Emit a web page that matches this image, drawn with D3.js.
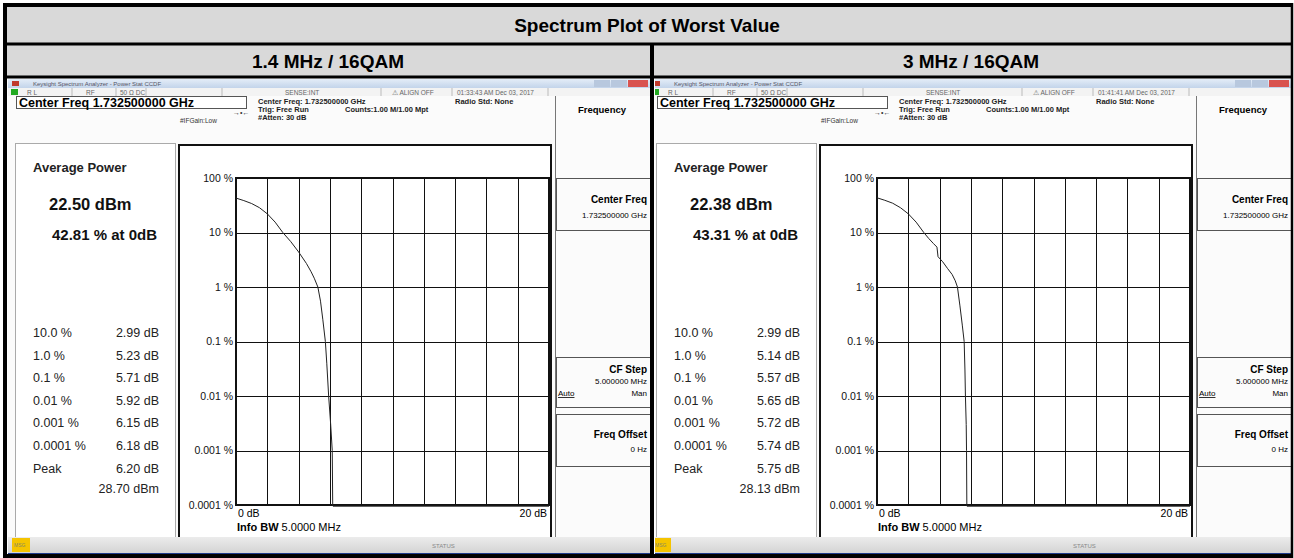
<!DOCTYPE html>
<html lang="en">
<head>
<meta charset="utf-8">
<title>Spectrum Plot of Worst Value</title>
<script src="https://cdn.jsdelivr.net/npm/d3@7"></script>
<style>
  html, body { margin: 0; padding: 0; background: #fff; overflow: hidden; }
  svg text { font-family: Arial, "Liberation Sans", sans-serif; }
  .grid line { stroke: #111; stroke-width: 1; shape-rendering: crispEdges; }
  .grid path { display: none; }
  .ytick text { font-size: 10.5px; fill: #111; }
</style>
</head>
<body>
<div id="chart"></div>
<script>
// ---------------- data ----------------
var pageTitle = "Spectrum Plot of Worst Value";
var panelTitles = ["1.4 MHz / 16QAM", "3 MHz / 16QAM"];
var timeStamps = ["01:33:43 AM Dec 03, 2017", "01:41:41 AM Dec 03, 2017"];
var avgPower = ["22.50 dBm", "22.38 dBm"];
var pctAtZero = ["42.81 % at 0dB", "43.31 % at 0dB"];
var probLabels = ["10.0 %", "1.0 %", "0.1 %", "0.01 %", "0.001 %", "0.0001 %", "Peak"];
var statsA = ["2.99 dB", "5.23 dB", "5.71 dB", "5.92 dB", "6.15 dB", "6.18 dB", "6.20 dB"];
var statsB = ["2.99 dB", "5.14 dB", "5.57 dB", "5.65 dB", "5.72 dB", "5.74 dB", "5.75 dB"];
var peakDbm = ["28.70 dBm", "28.13 dBm"];

var yTicks = [100, 10, 1, 0.1, 0.01, 0.001, 0.0001];
var yTickLabels = ["100 %", "10 %", "1 %", "0.1 %", "0.01 %", "0.001 %", "0.0001 %"];
var xTicks = [0, 2, 4, 6, 8, 10, 12, 14, 16, 18, 20];

// CCDF traces (dB above average, % probability)
var curveA_db  = [0, 0.5, 1, 1.5, 2, 2.5, 2.99, 3.5, 4, 4.5, 4.8, 5.0, 5.23, 5.4, 5.55, 5.71, 5.8, 5.92, 6.05, 6.15, 6.18, 6.2, 20];
var curveA_pct = [42.81, 38.5, 34, 28.5, 22, 15.5, 10, 6.8, 4.4, 2.7, 1.9, 1.45, 1.0, 0.55, 0.25, 0.1, 0.04, 0.01, 0.003, 0.001, 0.0001, 0.000095, 0.000095];
var curveB_db  = [0, 0.5, 1, 1.5, 2, 2.5, 2.99, 3.3, 3.6, 3.83, 3.9, 4.2, 4.5, 4.8, 5.0, 5.14, 5.3, 5.45, 5.57, 5.62, 5.65, 5.7, 5.72, 5.74, 5.75, 20];
var curveB_pct = [43.31, 39, 34.5, 28.5, 22, 15.5, 10, 7.8, 6.3, 5.4, 3.6, 2.9, 2.2, 1.7, 1.3, 1.0, 0.45, 0.2, 0.1, 0.03, 0.01, 0.003, 0.001, 0.0001, 0.000095, 0.000095];

var W = 1294, H = 558;

var svg = d3.select("#chart").append("svg")
  .attr("width", W).attr("height", H);

var defs = svg.append("defs");
var tb = defs.append("linearGradient").attr("id", "titlebar").attr("x1", 0).attr("y1", 0).attr("x2", 0).attr("y2", 1);
tb.append("stop").attr("offset", "0%").attr("stop-color", "#e4edf8");
tb.append("stop").attr("offset", "100%").attr("stop-color", "#c3d4ea");
var sb = defs.append("linearGradient").attr("id", "statusbar").attr("x1", 0).attr("y1", 0).attr("x2", 0).attr("y2", 1);
sb.append("stop").attr("offset", "0%").attr("stop-color", "#ececec");
sb.append("stop").attr("offset", "100%").attr("stop-color", "#d4d4d4");

defs.append("clipPath").attr("id", "clipL").append("rect")
  .attr("x", 8).attr("y", 78).attr("width", 642).attr("height", 478);
defs.append("clipPath").attr("id", "clipR").append("rect")
  .attr("x", 655).attr("y", 78).attr("width", 636).attr("height", 478);

// ---------------- table header ----------------
svg.append("rect").attr("x", 3).attr("y", 3).attr("width", 1289).attr("height", 73).attr("fill", "#d9d9d9");

svg.append("text").attr("x", W / 2).attr("y", 32)
  .attr("text-anchor", "middle").attr("font-size", 19).attr("font-weight", "bold")
  .text(pageTitle);

svg.selectAll("text.panel").data(panelTitles).enter().append("text")
  .attr("class", "panel")
  .attr("x", function(d, i) { return i == 0 ? 328 : 971; })
  .attr("y", 68)
  .attr("text-anchor", "middle").attr("font-size", 19).attr("font-weight", "bold")
  .text(function(d) { return d; });

// ---------------- one analyzer screen ----------------
function drawScreen(i, dx) {
  var g = svg.append("g").attr("clip-path", i == 0 ? "url(#clipL)" : "url(#clipR)")
    .append("g").attr("transform", "translate(" + dx + ",0)");

  g.append("rect").attr("x", 8).attr("y", 78).attr("width", 642).attr("height", 478).attr("fill", "#fbfbfb");

  // window title bar
  g.append("rect").attr("x", 8).attr("y", 79).attr("width", 642).attr("height", 9).attr("fill", "url(#titlebar)");
  g.append("rect").attr("x", 12).attr("y", 81).attr("width", 7).attr("height", 5).attr("fill", "#c0392b");
  g.append("text").attr("x", 33).attr("y", 86).attr("font-size", 6).attr("fill", "#556")
    .text("Keysight Spectrum Analyzer - Power Stat CCDF");
  g.append("rect").attr("x", 594).attr("y", 80).attr("width", 16).attr("height", 7).attr("fill", "#b8c8de");
  g.append("rect").attr("x", 611).attr("y", 80).attr("width", 16).attr("height", 7).attr("fill", "#b8c8de");
  g.append("rect").attr("x", 628).attr("y", 80).attr("width", 20).attr("height", 7).attr("fill", "#d9534f");

  // status row
  g.append("rect").attr("x", 8).attr("y", 88).attr("width", 642).attr("height", 8).attr("fill", "#f3f3f3");
  g.append("rect").attr("x", 11).attr("y", 89).attr("width", 7).attr("height", 6).attr("fill", "#22aa22");
  var st = [["R L", 27], ["RF", 86], ["50 Ω  DC", 120], ["SENSE:INT", 285], ["⚠ ALIGN OFF", 392], [timeStamps[i], 457]];
  g.selectAll("text.st").data(st).enter().append("text").attr("class", "st")
    .attr("x", function(d) { return d[1]; }).attr("y", 94.5)
    .attr("font-size", 6.5).attr("fill", "#666")
    .text(function(d) { return d[0]; });
  [72, 116, 146, 222, 381, 452, 548].forEach(function(x) {
    g.append("line").attr("x1", x).attr("x2", x).attr("y1", 88).attr("y2", 96).attr("stroke", "#bbb");
  });

  // center freq header box
  g.append("rect").attr("x", 16.5).attr("y", 96.5).attr("width", 230).attr("height", 12)
    .attr("fill", "#fff").attr("stroke", "#555");
  g.append("text").attr("x", 19).attr("y", 106.5).attr("font-size", 12.5).attr("font-weight", "bold")
    .text("Center Freq 1.732500000 GHz");

  var info = [["Center Freq: 1.732500000 GHz", 258, 104], ["Radio Std: None", 455, 104],
              ["Trig: Free Run", 258, 112], ["Counts:1.00 M/1.00 Mpt", 345, 112], ["#Atten: 30 dB", 258, 120]];
  g.selectAll("text.info").data(info).enter().append("text").attr("class", "info")
    .attr("x", function(d) { return d[1]; }).attr("y", function(d) { return d[2]; })
    .attr("font-size", 7.5).attr("font-weight", "bold").attr("fill", "#222")
    .text(function(d) { return d[0]; });
  g.append("text").attr("x", 180).attr("y", 123).attr("font-size", 6.5).attr("fill", "#333").text("#IFGain:Low");
  g.append("text").attr("x", 233).attr("y", 115).attr("font-size", 7).attr("fill", "#333").text("→•←");

  // softkey panel
  g.append("line").attr("x1", 555.5).attr("x2", 555.5).attr("y1", 96).attr("y2", 537).attr("stroke", "#777");
  g.append("text").attr("x", 602).attr("y", 113).attr("text-anchor", "middle")
    .attr("font-size", 9.5).attr("font-weight", "bold").text("Frequency");
  var keys = [[178, 230], [357, 407], [414, 466]];
  keys.forEach(function(k) {
    g.append("rect").attr("x", 556.5).attr("y", k[0] + 0.5).attr("width", 100).attr("height", k[1] - k[0])
      .attr("fill", "none").attr("stroke", "#555");
  });
  var kt = [["Center Freq", 203, 10, "bold"], ["1.732500000 GHz", 218, 8, "normal"],
            ["CF Step", 373, 10, "bold"], ["5.000000 MHz", 384, 8, "normal"], ["Man", 396, 8, "normal"],
            ["Freq Offset", 438, 10, "bold"], ["0 Hz", 452, 8, "normal"]];
  g.selectAll("text.kt").data(kt).enter().append("text").attr("class", "kt")
    .attr("x", 647).attr("y", function(d) { return d[1]; }).attr("text-anchor", "end")
    .attr("font-size", function(d) { return d[2]; }).attr("font-weight", function(d) { return d[3]; })
    .text(function(d) { return d[0]; });
  g.append("text").attr("x", 558).attr("y", 396).attr("font-size", 8).attr("text-decoration", "underline").text("Auto");

  // stats panel
  g.append("rect").attr("x", 15.5).attr("y", 143.5).attr("width", 160).attr("height", 394)
    .attr("fill", "#fff").attr("stroke", "#aaa");
  g.append("text").attr("x", 33).attr("y", 172).attr("font-size", 13).attr("font-weight", "bold").attr("fill", "#222").text("Average Power");
  g.append("text").attr("x", 49).attr("y", 210).attr("font-size", 16.5).attr("font-weight", "bold").attr("fill", "#111").text(avgPower[i]);
  g.append("text").attr("x", 52).attr("y", 240).attr("font-size", 15).attr("font-weight", "bold").attr("fill", "#111").text(pctAtZero[i]);

  var stats = i == 0 ? statsA : statsB;
  g.selectAll("text.pl").data(probLabels).enter().append("text").attr("class", "pl")
    .attr("x", 33).attr("y", function(d, j) { return 337 + j * 22.6; })
    .attr("font-size", 12.5).attr("fill", "#222").text(function(d) { return d; });
  g.selectAll("text.sv").data(stats).enter().append("text").attr("class", "sv")
    .attr("x", 159).attr("y", function(d, j) { return 337 + j * 22.6; }).attr("text-anchor", "end")
    .attr("font-size", 12.5).attr("fill", "#222").text(function(d) { return d; });
  g.append("text").attr("x", 159).attr("y", 493).attr("text-anchor", "end")
    .attr("font-size", 12.5).attr("fill", "#222").text(peakDbm[i]);

  // chart frame
  g.append("rect").attr("x", 179).attr("y", 145).attr("width", 372).attr("height", 394)
    .attr("fill", "#fff").attr("stroke", "#111").attr("stroke-width", 2);

  var x = d3.scaleLinear().domain([0, 20]).range([236, 549]);
  var y = d3.scaleLog().domain([0.0001, 100]).range([505, 178]);

  g.append("g").attr("class", "grid ytick").attr("transform", "translate(236,0)")
    .call(d3.axisLeft(y).tickValues(yTicks).tickSize(-(549 - 236)).tickPadding(3)
      .tickFormat(function(d, j) { return yTickLabels[j]; }));
  g.append("g").attr("class", "grid").attr("transform", "translate(0,505)")
    .call(d3.axisBottom(x).tickValues(xTicks).tickSize(-(505 - 178)).tickFormat(""));
  g.append("rect").attr("x", 236).attr("y", 178).attr("width", 313).attr("height", 327)
    .attr("fill", "none").attr("stroke", "#111").attr("stroke-width", 2);

  var dbs = i == 0 ? curveA_db : curveB_db;
  var pcts = i == 0 ? curveA_pct : curveB_pct;
  var pts = dbs.map(function(d, j) { return [d, pcts[j]]; });
  g.append("path").datum(pts)
    .attr("fill", "none").attr("stroke", "#222").attr("stroke-width", 1)
    .attr("d", d3.line().x(function(d) { return x(d[0]); }).y(function(d) { return y(d[1]); }));

  g.append("text").attr("x", x(0) + 2).attr("y", 517).attr("font-size", 10.5).text("0 dB");
  g.append("text").attr("x", x(20) - 2).attr("y", 517).attr("text-anchor", "end").attr("font-size", 10.5).text("20 dB");
  var ib = g.append("text").attr("x", 237).attr("y", 531).attr("font-size", 11);
  ib.append("tspan").attr("font-weight", "bold").text("Info BW ");
  ib.append("tspan").text("5.0000 MHz");

  // bottom status bar
  g.append("rect").attr("x", 8).attr("y", 537).attr("width", 642).attr("height", 16).attr("fill", "url(#statusbar)");
  g.append("rect").attr("x", 12).attr("y", 538).attr("width", 18).attr("height", 14).attr("fill", "#f5c400");
  g.append("text").attr("x", 14).attr("y", 547).attr("font-size", 5).attr("fill", "#886").text("MSG");
  g.append("text").attr("x", 432).attr("y", 548).attr("font-size", 6).attr("fill", "#888").text("STATUS");
  g.append("rect").attr("x", 8).attr("y", 553).attr("width", 642).attr("height", 3).attr("fill", "#1d3a8a");
}

drawScreen(0, 0);
drawScreen(1, 641);

// ---------------- table borders ----------------
var lines = [[3, 5, 1293, 5, 4], [3, 44, 1293, 44, 3], [3, 77, 1293, 77, 3], [3, 556, 1293, 556, 4],
             [5, 3, 5, 558, 4], [1292, 3, 1292, 558, 2.5], [652, 44, 652, 558, 4]];
svg.selectAll("line.tbl").data(lines).enter().append("line").attr("class", "tbl")
  .attr("x1", function(d) { return d[0]; }).attr("y1", function(d) { return d[1]; })
  .attr("x2", function(d) { return d[2]; }).attr("y2", function(d) { return d[3]; })
  .attr("stroke", "#000").attr("stroke-width", function(d) { return d[4]; });
</script>
</body>
</html>
